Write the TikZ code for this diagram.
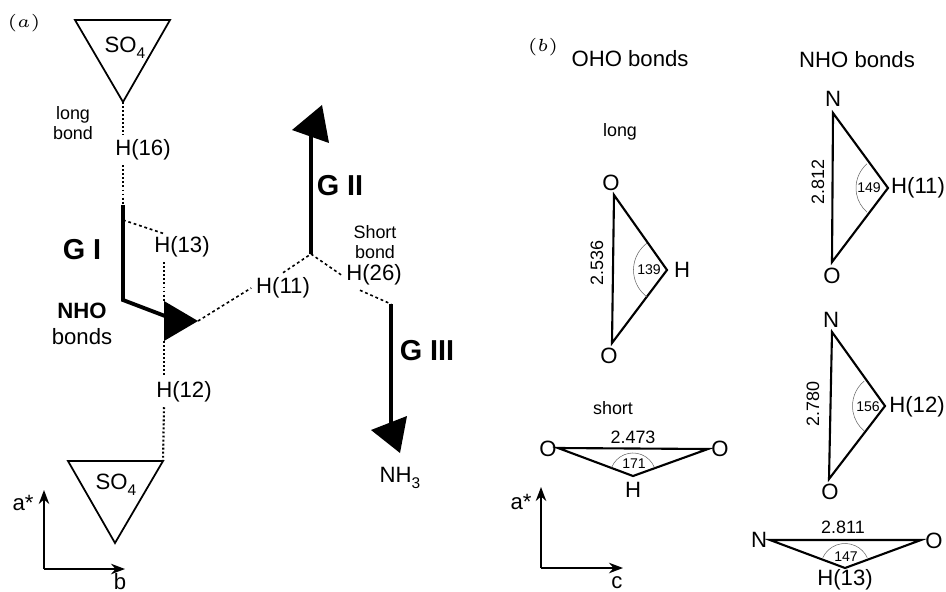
\documentclass[tikz,border=0pt]{standalone}
\usepackage{fontspec}
\usetikzlibrary{arrows.meta}
\setmainfont{Liberation Sans}
\newcommand{\lowfig}[1]{\raisebox{-0.55ex}{\fontsize{4.4}{5}\selectfont #1}}
\begin{document}
\begin{tikzpicture}[x=0.01cm,y=-0.01cm,
  lab/.style={font=\fontsize{6.3}{7.4}\selectfont,inner sep=1.2pt},
  small/.style={font=\fontsize{5.1}{5.9}\selectfont,inner sep=0.5pt,align=center},
  tiny/.style={font=\fontsize{4}{4.5}\selectfont,inner sep=0pt},
  big/.style={font=\fontsize{8.2}{9}\bfseries\selectfont,inner sep=0pt},
  tag/.style={font=\fontsize{5}{6}\selectfont,inner sep=0pt},
  chain/.style={line width=1.1pt},
  head/.style={fill=black},
  bond/.style={line width=0.45pt,dash pattern=on 0.8pt off 0.8pt},
  dots/.style={line width=0.6pt,dash pattern=on 0.55pt off 0.6pt},
  tri/.style={line width=0.5pt,line join=miter},
  side/.style={line width=0.6pt},
  anglearc/.style={line width=0.15pt,draw=black!60},
  axis/.style={line width=0.45pt,-{Stealth[length=4pt,width=3pt]}}]
\useasboundingbox (0,0) rectangle (946,591);

\node[tag] (tagA) at (24,23) {$(a)$};
\node[tag] (tagB) at (543,47) {$(b)$};

\coordinate (s1) at (75,20);
\coordinate (s2) at (170,20);
\coordinate (s3) at (123,102);
\node[lab] (so4a) at (125,48) {SO\lowfig{4}};
\draw[tri] (s1) -- (s2) -- (s3) -- cycle;

\coordinate (s4) at (68,461);
\coordinate (s5) at (163,461);
\coordinate (s6) at (115,543);
\node[lab] (so4b) at (116,485) {SO\lowfig{4}};
\draw[tri] (s4) -- (s5) -- (s6) -- cycle;

\node[small] (longbond) at (73,123) {long\\bond};
\node[lab] (h16) at (143,150) {H(16)};
\node[lab] (h13) at (182,247) {H(13)};
\node[lab] (h12) at (184,392) {H(12)};
\node[lab] (h11) at (283,288) {H(11)};
\node[lab] (h26) at (374,275) {H(26)};
\node[small] (shortbond) at (375,242) {Short\\bond};
\node[lab] (nh3) at (400,478) {NH\lowfig{3}};

\node[big] (g1) at (82,250) {G I};
\node[big] (g2) at (340,186) {G II};
\node[big] (g3) at (427,351) {G III};
\node[lab,align=center] (nho) at (82,324) {\textbf{NHO}\\bonds};

\coordinate (a1) at (123,205);
\coordinate (a2) at (123,300);
\coordinate (a3) at (165,316);
\coordinate (a4) at (164,301);
\coordinate (a5) at (198,321);
\coordinate (a6) at (164,341);
\coordinate (a7) at (123,220);
\coordinate (a8) at (165,234);

\coordinate (b1) at (311,254);
\coordinate (b2) at (311,135);
\coordinate (b3) at (292,130);
\coordinate (b4) at (322,105);
\coordinate (b5) at (329,143);

\coordinate (c1) at (391,304);
\coordinate (c2) at (391,425);
\coordinate (c3) at (371,430);
\coordinate (c4) at (407,416);
\coordinate (c5) at (400,453);

\draw[chain,line join=miter] (a1) -- (a2) -- (a3);
\fill[head] (a4) -- (a5) -- (a6) -- cycle;
\draw[chain] (b1) -- (b2);
\fill[head] (b3) -- (b4) -- (b5) -- cycle;
\draw[chain] (c1) -- (c2);
\fill[head] (c3) -- (c4) -- (c5) -- cycle;

\draw[dots] (s3) -- (s3 |- h16.north);
\draw[dots] (s3 |- h16.south) -- (a1);
\draw[bond] (a7) -- (a8);
\draw[dots] (a4 |- h13.south) -- (a4);
\draw[dots] (a6) -- (a6 |- h12.north);
\draw[dots] (a6 |- h12.south) -- (s5);
\draw[bond] (a5) -- (h11.west);
\draw[bond] (h11.north) -- (b1);
\draw[bond] (b1) -- (h26.west);
\draw[bond] ([xshift=-0.14cm]h26.south) -- (c1);

\coordinate (xa) at (44,569);
\node[lab,inner sep=0pt] (axa) at (23,503) {a*};
\node[lab,inner sep=0pt] (axb) at (120,582) {b};
\coordinate (xa1) at (44,490);
\coordinate (xa2) at (125,569);
\draw[axis] (xa) -- (xa1);
\draw[axis] (xa) -- (xa2);

\coordinate (xc) at (541,568);
\node[lab,inner sep=0pt] (axd) at (521,502) {a*};
\node[lab,inner sep=0pt] (axc) at (617,583) {c};
\coordinate (xc1) at (541,487);
\coordinate (xc2) at (623,568);
\draw[axis] (xc) -- (xc1);
\draw[axis] (xc) -- (xc2);

\node[lab,inner sep=0pt] (oho) at (630,59) {OHO bonds};
\node[lab,inner sep=0pt] (nhob) at (857,60) {NHO bonds};
\node[small] (long) at (620,132) {long};
\node[small] (short) at (613,408) {short};

\coordinate (p1) at (614,195);
\coordinate (p2) at (667,270);
\coordinate (p3) at (612,343);
\node[lab,inner sep=0pt] (o1) at (611,183) {O};
\node[lab,inner sep=0pt] (o2) at (609,356) {O};
\node[lab,inner sep=0pt] (h1) at (682,270) {H};
\node[small,rotate=90] (d1) at (597,263) {2.536};
\node[tiny] (w1) at (649,270) {139};
\draw[side] (p1) -- (p2) -- (p3) -- cycle;
\draw[anglearc] (p2) ++(127:0.335cm) arc[start angle=127,end angle=233,radius=0.335cm];

\coordinate (q1) at (833,113);
\coordinate (q2) at (888,188);
\coordinate (q3) at (832,262);
\node[lab,inner sep=0pt] (n2) at (833,99) {N};
\node[lab,inner sep=0pt] (o3) at (832,276) {O};
\node[lab,inner sep=0pt] (h2) at (918,188) {H(11)};
\node[small,rotate=90] (d2) at (818,182) {2.812};
\node[tiny] (w2) at (869,188) {149};
\draw[side] (q1) -- (q2) -- (q3) -- cycle;
\draw[anglearc] (q2) ++(131:0.32cm) arc[start angle=131,end angle=229,radius=0.32cm];

\coordinate (r1) at (832,332);
\coordinate (r2) at (885,406);
\coordinate (r3) at (829,479);
\node[lab,inner sep=0pt] (n3) at (831,320) {N};
\node[lab,inner sep=0pt] (o4) at (830,492) {O};
\node[lab,inner sep=0pt] (h3) at (917,407) {H(12)};
\node[small,rotate=90] (d3) at (813,404) {2.780};
\node[tiny] (w3) at (868,407) {156};
\draw[side] (r1) -- (r2) -- (r3) -- cycle;
\draw[anglearc] (r2) ++(130:0.325cm) arc[start angle=130,end angle=230,radius=0.325cm];

\coordinate (t1) at (558,448);
\coordinate (t2) at (633,476);
\coordinate (t3) at (708,449);
\node[lab,inner sep=0pt] (o5) at (548,449) {O};
\node[lab,inner sep=0pt] (o6) at (720,449) {O};
\node[lab,inner sep=0pt] (h4) at (633,490) {H};
\node[small] (d4) at (633,437) {2.473};
\node[tiny] (w4) at (634,464) {171};
\draw[side] (t1) -- (t2) -- (t3) -- cycle;
\draw[anglearc] (t2) ++(158:0.23cm) arc[start angle=158,end angle=22,radius=0.23cm];

\coordinate (u1) at (770,540);
\coordinate (u2) at (845,568);
\coordinate (u3) at (921,540);
\node[lab,inner sep=0pt] (n4) at (759,540) {N};
\node[lab,inner sep=0pt] (o7) at (934,541) {O};
\node[lab,inner sep=0pt] (h5) at (845,580) {H(13)};
\node[small] (d5) at (843,527) {2.811};
\node[tiny] (w5) at (846,557) {147};
\draw[side] (u1) -- (u2) -- (u3) -- cycle;
\draw[anglearc] (u2) ++(155:0.245cm) arc[start angle=155,end angle=25,radius=0.245cm];
\end{tikzpicture}
\end{document}
